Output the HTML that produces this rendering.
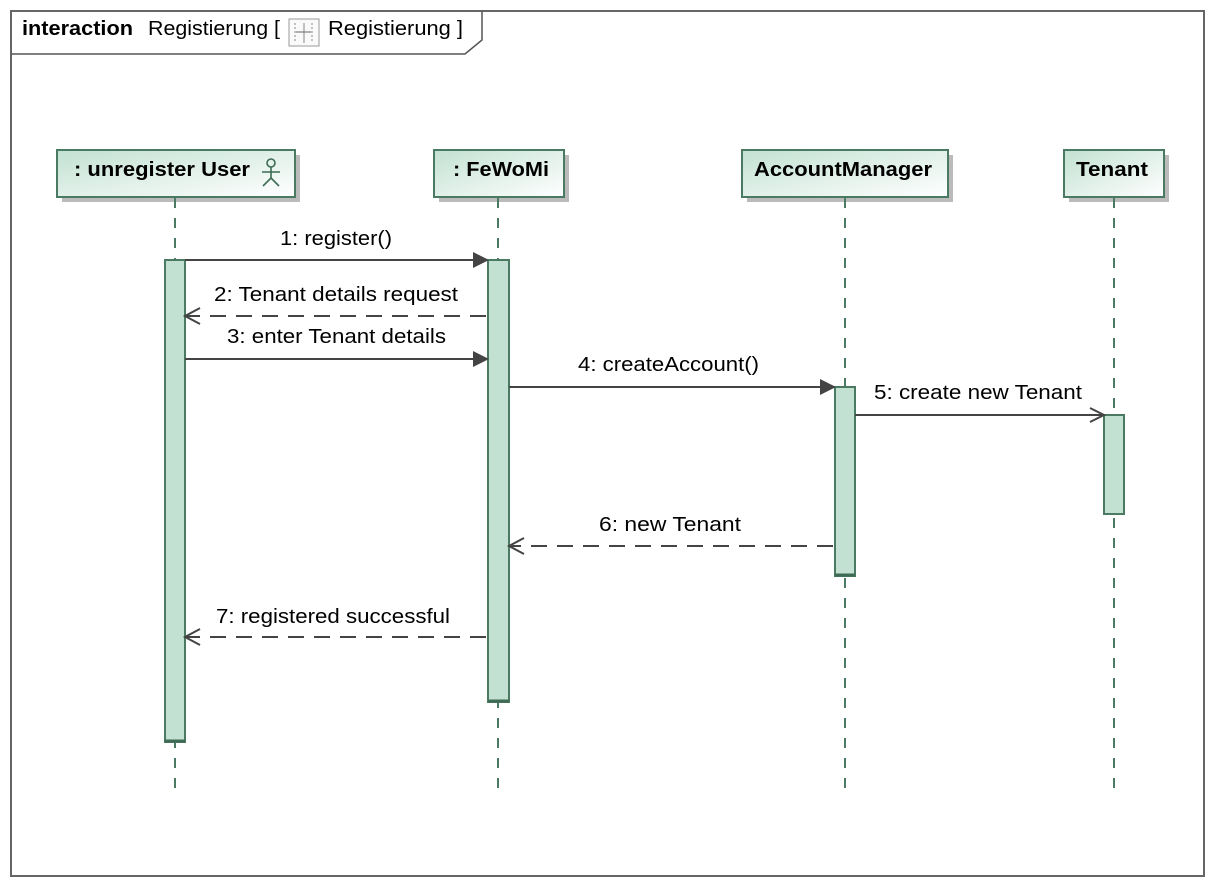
<!DOCTYPE html>
<html><head><meta charset="utf-8"><style>
html,body{margin:0;padding:0;background:#fff;width:1214px;height:886px;overflow:hidden}
text{font-family:"Liberation Sans",Arial,sans-serif}
</style></head><body>
<svg width="1214" height="886" xmlns="http://www.w3.org/2000/svg">
<defs>
<linearGradient id="g" x1="0" y1="0" x2="1" y2="1">
<stop offset="0" stop-color="#c2e1d2"/><stop offset="1" stop-color="#ffffff"/>
</linearGradient>
</defs>
<rect x="11" y="11" width="1193" height="865" fill="none" stroke="#666" stroke-width="2"/>
<polyline points="11,54 465,54 482,40 482,11" fill="none" stroke="#555" stroke-width="1.5"/>
<text x="22" y="35" font-size="20" font-weight="bold" textLength="111" lengthAdjust="spacingAndGlyphs">interaction</text>
<text x="148" y="35" font-size="20" textLength="132" lengthAdjust="spacingAndGlyphs">Registierung [</text>
<rect x="289" y="19" width="30" height="27" fill="#fafafa" stroke="#999"/>
<line x1="295" y1="23" x2="295" y2="43" stroke="#888" stroke-dasharray="2,2"/>
<line x1="304" y1="23" x2="304" y2="43" stroke="#888"/>
<line x1="312" y1="23" x2="312" y2="43" stroke="#888" stroke-dasharray="2,2"/>
<line x1="296" y1="32" x2="311" y2="32" stroke="#666"/>
<text x="328" y="35" font-size="20" textLength="135" lengthAdjust="spacingAndGlyphs">Registierung ]</text>

<g stroke="#4a7a62" stroke-width="2">
<rect x="62" y="155" width="238" height="47" fill="#bbb" stroke="none"/>
<rect x="57" y="150" width="238" height="47" fill="url(#g)"/>
<rect x="439" y="155" width="130" height="47" fill="#bbb" stroke="none"/>
<rect x="434" y="150" width="130" height="47" fill="url(#g)"/>
<rect x="747" y="155" width="206" height="47" fill="#bbb" stroke="none"/>
<rect x="742" y="150" width="206" height="47" fill="url(#g)"/>
<rect x="1069" y="155" width="100" height="47" fill="#bbb" stroke="none"/>
<rect x="1064" y="150" width="100" height="47" fill="url(#g)"/>
</g>
<text x="74" y="176" font-size="20" font-weight="bold" textLength="176" lengthAdjust="spacingAndGlyphs">: unregister User</text>
<g stroke="#3d6b54" stroke-width="1.6" fill="none">
<circle cx="271" cy="163" r="4"/>
<line x1="271" y1="167" x2="271" y2="178"/>
<line x1="262" y1="172" x2="280" y2="172"/>
<line x1="271" y1="178" x2="263" y2="186"/>
<line x1="271" y1="178" x2="279" y2="186"/>
</g>
<text x="453" y="176" font-size="20" font-weight="bold" textLength="96" lengthAdjust="spacingAndGlyphs">: FeWoMi</text>
<text x="754" y="176" font-size="20" font-weight="bold" textLength="178" lengthAdjust="spacingAndGlyphs">AccountManager</text>
<text x="1076" y="176" font-size="20" font-weight="bold" textLength="72" lengthAdjust="spacingAndGlyphs">Tenant</text>

<g stroke="#4a7a62" stroke-width="2" stroke-dasharray="10,10">
<line x1="175" y1="198" x2="175" y2="788"/>
<line x1="498" y1="198" x2="498" y2="788"/>
<line x1="845" y1="198" x2="845" y2="788"/>
<line x1="1114" y1="198" x2="1114" y2="788"/>
</g>

<g fill="#c2e1d2" stroke="#4a7a62" stroke-width="2">
<rect x="165" y="260" width="20" height="482"/>
<rect x="488" y="260" width="21" height="442"/>
<rect x="835" y="387" width="20" height="189"/>
<rect x="1104" y="415" width="20" height="99"/>
</g>
<g stroke="#3d6b54" stroke-width="3">
<line x1="165" y1="741" x2="185" y2="741"/>
<line x1="488" y1="701" x2="509" y2="701"/>
<line x1="835" y1="575" x2="855" y2="575"/>
</g>

<g stroke="#444" stroke-width="2" fill="none">
<line x1="185" y1="260" x2="474" y2="260"/>
<line x1="185" y1="359" x2="474" y2="359"/>
<line x1="509" y1="387" x2="821" y2="387"/>
<line x1="855" y1="415" x2="1103" y2="415"/>
<polyline points="1090,408 1104,415 1090,422"/>
<line x1="486" y1="316" x2="186" y2="316" stroke-dasharray="16,10"/>
<polyline points="200,308 185,316 200,324"/>
<line x1="833" y1="546" x2="510" y2="546" stroke-dasharray="16,10"/>
<polyline points="524,538 509,546 524,554"/>
<line x1="486" y1="637" x2="186" y2="637" stroke-dasharray="16,10"/>
<polyline points="200,629 185,637 200,645"/>
</g>
<g fill="#444">
<polygon points="473,252 489,260 473,268"/>
<polygon points="473,351 489,359 473,367"/>
<polygon points="820,379 836,387 820,395"/>
</g>
<g font-size="20" fill="#000">
<text x="280" y="245" textLength="112" lengthAdjust="spacingAndGlyphs">1: register()</text>
<text x="214" y="301" textLength="244" lengthAdjust="spacingAndGlyphs">2: Tenant details request</text>
<text x="227" y="343" textLength="219" lengthAdjust="spacingAndGlyphs">3: enter Tenant details</text>
<text x="578" y="371" textLength="181" lengthAdjust="spacingAndGlyphs">4: createAccount()</text>
<text x="874" y="399" textLength="208" lengthAdjust="spacingAndGlyphs">5: create new Tenant</text>
<text x="599" y="531" textLength="142" lengthAdjust="spacingAndGlyphs">6: new Tenant</text>
<text x="216" y="623" textLength="234" lengthAdjust="spacingAndGlyphs">7: registered successful</text>
</g>
</svg>
</body></html>
